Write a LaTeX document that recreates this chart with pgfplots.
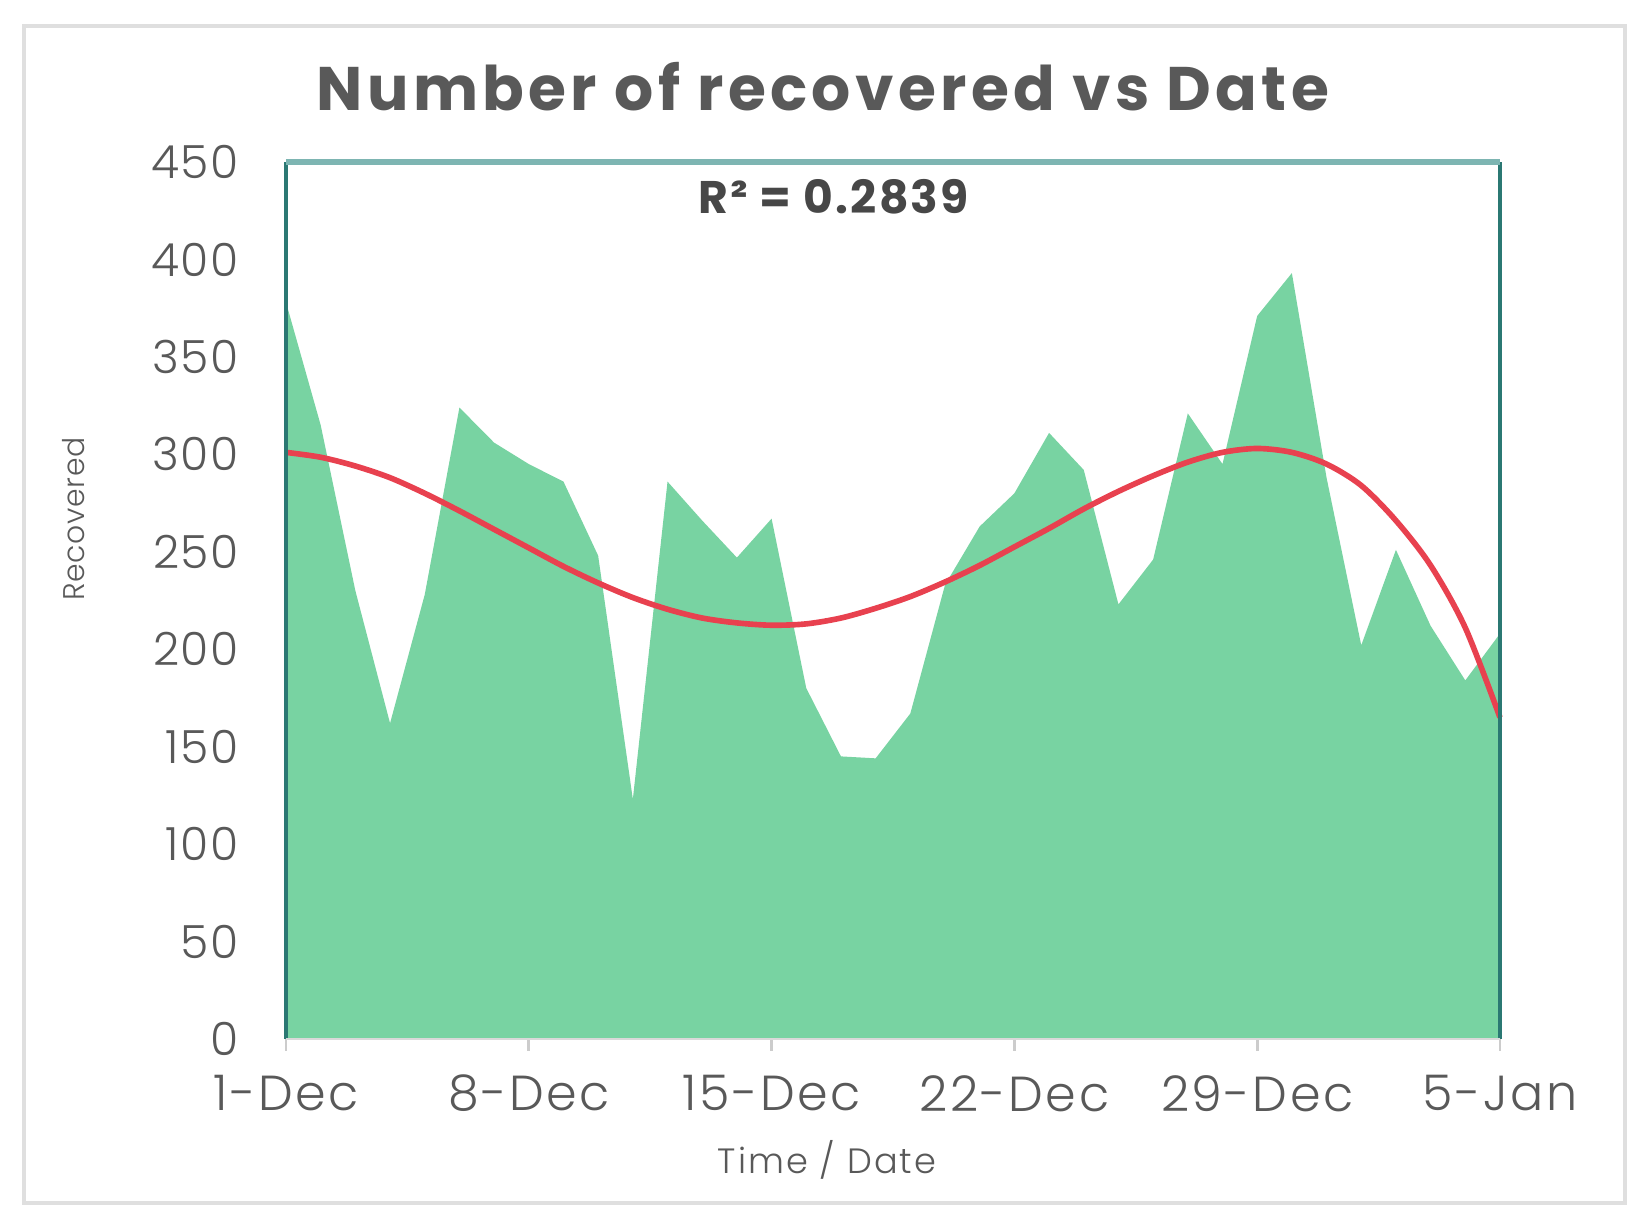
\documentclass[border=0pt]{standalone}
\usepackage{fontspec}
\setmainfont{Poppins}
\IfFontExistsTF{Poppins Light}{\newfontfamily\lightfont{Poppins Light}}{\newfontfamily\lightfont{Poppins}}
\usepackage{pgfplots}
\pgfplotsset{compat=1.18}
\definecolor{areagreen}{HTML}{78D3A2}
\definecolor{trendred}{HTML}{E8414F}
\definecolor{frameteal}{HTML}{2B7873}
\definecolor{topteal}{HTML}{7DB5B2}
\definecolor{txtgray}{HTML}{595959}
\begin{document}
\begin{tikzpicture}
\path[use as bounding box] (0,0) rectangle (16.44,12.27);
\draw[gray!25, line width=1.2pt] (0.24,0.24) rectangle (16.25,12.01);
\begin{axis}[
  at={(2.86cm,1.88cm)}, anchor=south west,
  scale only axis, width=12.14cm, height=8.77cm,
  xmin=0, xmax=35, ymin=0, ymax=450,
  xtick={0,7,14,21,28,35},
  xticklabels={1-Dec,8-Dec,15-Dec,22-Dec,29-Dec,5-Jan},
  ytick={0,50,...,450},
  xtick pos=bottom, ytick pos=left,
  axis line style={draw=none},
  tick align=outside,
  major tick length=0.12cm,
  xtick style={draw=gray!40, line width=0.8pt},
  ytick style={draw=none},
  yticklabel style={font={\lightfont\addfontfeatures{LetterSpace=3}\fontsize{13}{13}\selectfont}, text=txtgray, anchor=east, inner xsep=0pt, xshift=-0.35cm},
  xticklabel style={font={\lightfont\addfontfeatures{LetterSpace=5}\fontsize{14}{14}\selectfont}, text=txtgray, anchor=center, yshift=-0.425cm},
  /pgf/number format/assume math mode=true,
  clip=false,
]
\addplot[fill=areagreen, draw=none] table {
0 378
1 315
2 230
3 162
4 228
5 324
6 306
7 295
8 286
9 248
10 123
11 286
12 266
13 247
14 267
15 180
16 145
17 144
18 167
19 233
20 263
21 280
22 311
23 292
24 223
25 246
26 321
27 295
28 371
29 393
30 288
31 202
32 251
33 212
34 184
35 208
} \closedcycle;
\addplot[trendred, line width=1.6pt, smooth] table {
0 301
1 298.5
2 294
3 288
4 280
5 271
6 261.5
7 252
8 242.5
9 234
10 226.5
11 220.5
12 216
13 213.5
14 212.3
15 213
16 216
17 221
18 227
19 234.5
20 243
21 252.5
22 262
23 272
24 281
25 289
26 296
27 301
28 303
29 301
30 295
31 284
32 266
33 243
34 211
35 165
};
\draw[frameteal, line width=1.2pt] (rel axis cs:0,0) -- (rel axis cs:0,1);
\draw[frameteal, line width=1.2pt] (rel axis cs:1,0) -- (rel axis cs:1,1);
\draw[topteal, line width=1.5pt] (rel axis cs:0,1) -- (rel axis cs:1,1);
\draw[gray!30, line width=0.8pt] (rel axis cs:0,0) -- (rel axis cs:1,0);
\end{axis}
\node[font={\bfseries\addfontfeatures{LetterSpace=7}\fontsize{17.5}{17.5}\selectfont}, text=txtgray] at (8.23,11.40) {Number of recovered vs Date};
\node[font={\bfseries\addfontfeatures{LetterSpace=5}\fontsize{13}{13}\selectfont}, text=txtgray!80!black] at (8.335,10.30) {R² = 0.2839};
\node[font={\lightfont\addfontfeatures{LetterSpace=6}\fontsize{10}{10}\selectfont}, text=txtgray] at (8.27,0.67) {Time / Date};
\node[rotate=90, font={\lightfont\addfontfeatures{LetterSpace=2}\fontsize{8.5}{8.5}\selectfont}, text=txtgray] at (0.734,7.08) {Recovered};
\end{tikzpicture}
\end{document}
